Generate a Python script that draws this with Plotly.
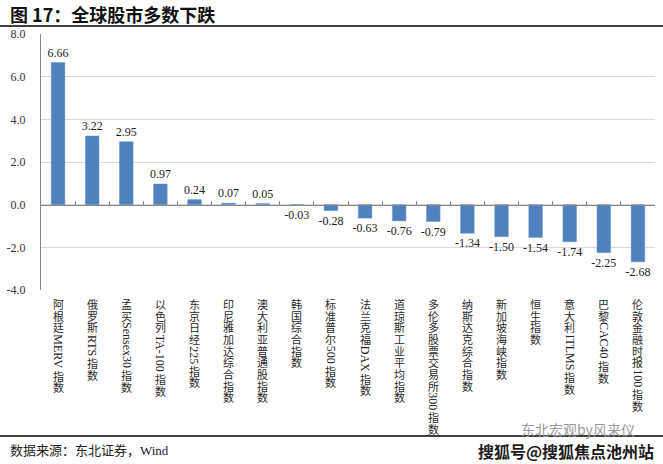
import plotly.graph_objects as go

# ---------------- data ----------------
CATEGORIES = [
    "阿根廷MERV指数", "俄罗斯RTS指数", "孟买Sensex30指数", "以色列TA-100指数",
    "东京日经225指数", "印尼雅加达综合指数", "澳大利亚普通股指数", "韩国综合指数",
    "标准普尔500指数", "法兰克福DAX指数", "道琼斯工业平均指数", "多伦多股票交易所300指数",
    "纳斯达克综合指数", "新加坡海峡指数", "恒生指数", "意大利ITLMS指数",
    "巴黎CAC40指数", "伦敦金融时报100指数",
]
VALUES = [6.66, 3.22, 2.95, 0.97, 0.24, 0.07, 0.05, -0.03, -0.28, -0.63,
          -0.76, -0.79, -1.34, -1.50, -1.54, -1.74, -2.25, -2.68]
Y_TICKS = [-4, -2, 0, 2, 4, 6, 8]
Y_TICK_LABELS = [f"{v:.1f}" for v in Y_TICKS]
VALUE_LABELS = [f"{v:.2f}" for v in VALUES]

TITLE = "图 17：全球股市多数下跌"
SOURCE = "数据来源：东北证券，Wind"
WATERMARK1 = "东北宏观by风来仪"
WATERMARK2 = "搜狐号@搜狐焦点池州站"

# ---------------- layout geometry ----------------
W, H = 663, 464
ML, MR, MT, MB = 41, 8, 34, 174
PW, PH = W - ML - MR, H - MT - MB


def pxx(px):
    return (px - ML) / PW


def pxy(py):
    return (H - MB - py) / PH


SERIF = "Liberation Serif, Noto Sans CJK SC"
CJK = "Noto Sans CJK SC, Liberation Serif"

# approximate Times-like advance widths (em) for rotated latin runs
TIMES_W = {
    'M': .889, 'E': .611, 'R': .667, 'V': .722, 'T': .611, 'S': .556, 'D': .722,
    'A': .722, 'X': .722, 'I': .333, 'L': .611, 'C': .667, 'e': .444, 'n': .5,
    's': .389, 'x': .5, '-': .333,
}


def runs(s):
    out, buf = [], ""
    for ch in s:
        if ord(ch) > 0x2000:
            if buf:
                out.append(("lat", buf))
                buf = ""
            out.append(("cjk", ch))
        else:
            buf += ch
    if buf:
        out.append(("lat", buf))
    return out


CJK_FS = 11
LAT_FS = 12
PITCH = 11.7

annotations = []
for cat in CATEGORIES:
    off = 8.0
    for kind, txt in runs(cat):
        if kind == "cjk":
            annotations.append(dict(
                x=cat, xref="x", y=0, yref="paper", yanchor="middle", xanchor="center",
                yshift=-(off + PITCH / 2), text=txt, showarrow=False, borderpad=0, borderwidth=0,
                font=dict(family=CJK, size=CJK_FS, color="#2a2a2a"),
            ))
            off += PITCH
        else:
            wpx = sum(TIMES_W.get(c, 0.5) for c in txt) * LAT_FS
            annotations.append(dict(
                x=cat, xref="x", y=0, yref="paper", yanchor="middle", xanchor="center",
                yshift=-(off + 1 + wpx / 2), text=txt, showarrow=False, textangle=90,
                borderpad=0, borderwidth=0,
                font=dict(family=SERIF, size=LAT_FS, color="#222"),
            ))
            off += wpx + 2

annotations += [
    dict(x=pxx(8), y=pxy(14), xref="paper", yref="paper", xanchor="left", yanchor="middle",
         text="<b>" + TITLE + "</b>", showarrow=False,
         font=dict(family=CJK, size=18, color="#111")),
    dict(x=pxx(8), y=pxy(450), xref="paper", yref="paper", xanchor="left", yanchor="middle",
         text=SOURCE, showarrow=False, font=dict(family=SERIF, size=13, color="#222")),
    dict(x=pxx(578), y=pxy(429), xref="paper", yref="paper", xanchor="center", yanchor="middle",
         text=WATERMARK1, showarrow=False, font=dict(family=CJK, size=14, color="#9a9a9a")),
    dict(x=pxx(566), y=pxy(451), xref="paper", yref="paper", xanchor="center", yanchor="middle",
         text="<b>" + WATERMARK2 + "</b>", showarrow=False,
         font=dict(family=CJK, size=16, color="#1a1a1a")),
]

shapes = [
    dict(type="line", xref="paper", yref="paper", x0=pxx(0), x1=pxx(W), y0=pxy(26), y1=pxy(26),
         line=dict(color="#000", width=1.5)),
    dict(type="line", xref="paper", yref="paper", x0=pxx(0), x1=pxx(W), y0=pxy(436), y1=pxy(436),
         line=dict(color="#000", width=1.5)),
]

fig = go.Figure()
fig.add_trace(go.Bar(
    x=CATEGORIES, y=VALUES, width=0.4,
    marker=dict(color="#4F81BD", line=dict(color="#6f96c8", width=0.5)),
    text=VALUE_LABELS, textposition="outside", constraintext="none", cliponaxis=False,
    textfont=dict(family=SERIF, size=12, color="#222"),
    hoverinfo="skip", showlegend=False,
))
fig.add_trace(go.Scatter(
    x=CATEGORIES, y=VALUES, xaxis="x2", mode="markers",
    marker=dict(opacity=0), hoverinfo="skip", showlegend=False,
))

fig.update_layout(
    width=W, height=H,
    margin=dict(l=ML, r=MR, t=MT, b=MB, pad=0),
    paper_bgcolor="white", plot_bgcolor="white",
    xaxis=dict(type="category", categoryarray=CATEGORIES, range=[-0.5, 17.5],
               showticklabels=False, showgrid=False, showline=False, ticks="",
               zeroline=False, automargin=False),
    xaxis2=dict(type="category", categoryarray=CATEGORIES, range=[-0.5, 17.5],
                overlaying="x", anchor="free", position=1 / 3, side="bottom",
                showline=True, linecolor="#868686", linewidth=1,
                ticks="inside", ticklen=4, tickcolor="#868686", tickson="boundaries",
                showticklabels=False, showgrid=False, zeroline=False, automargin=False),
    yaxis=dict(range=[-4, 8], tickvals=Y_TICKS, ticktext=Y_TICK_LABELS,
               showgrid=True, gridcolor="#d9d9d9", gridwidth=1, zeroline=False,
               showline=True, linecolor="#868686", linewidth=1, ticks="",
               ticklabelstandoff=12, automargin=False,
               tickfont=dict(family=SERIF, size=12, color="#333")),
    annotations=annotations,
    shapes=shapes,
    bargap=0.6,
)

fig.write_html("out.html", config={"displayModeBar": False, "staticPlot": True},
               post_script="document.body.style.margin='0';document.body.style.padding='0';")
